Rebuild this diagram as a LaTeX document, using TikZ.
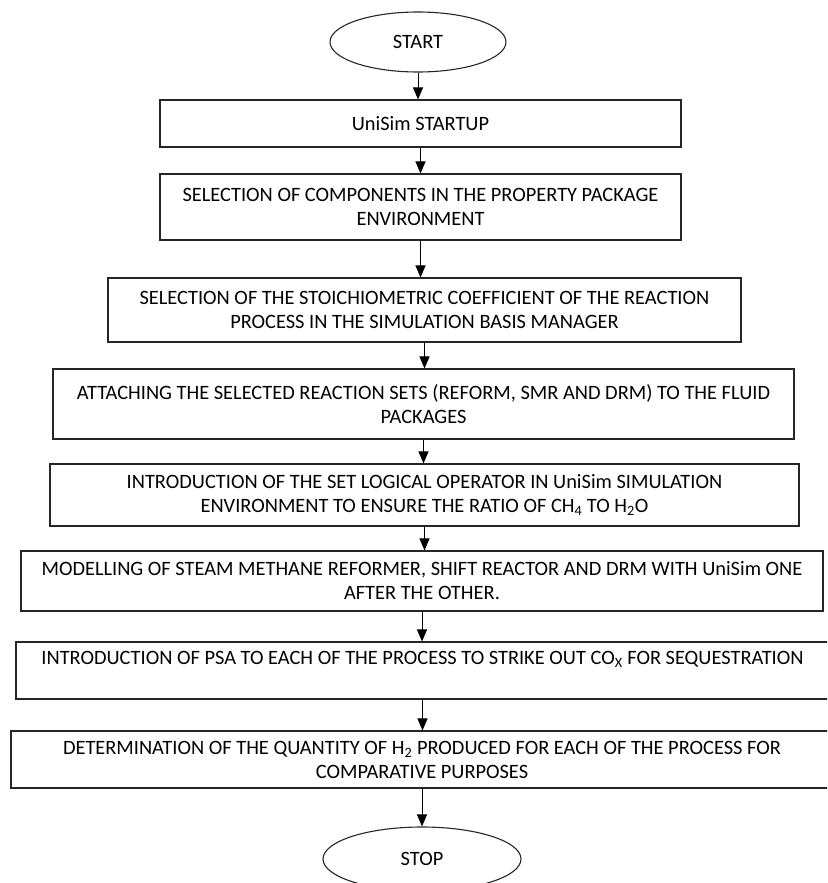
\documentclass[tikz,border=0pt]{standalone}
\usepackage{fontspec}
\setmainfont{Carlito}
\usetikzlibrary{arrows.meta,shapes.geometric}
\tikzset{
  stepbox/.style={draw=black!85, line width=1.1pt, rectangle, inner sep=0pt, align=center,
    font=\fontsize{20.4}{24}\selectfont},
  termnode/.style={draw=black!85, line width=1.1pt, ellipse, inner sep=0pt,
    font=\fontsize{20.4}{24}\selectfont},
  flow/.style={line width=1pt, -{Triangle[width=10pt,length=12pt]}}
}
\begin{document}
\begin{tikzpicture}[x=1pt,y=-1pt]
\useasboundingbox (0,0) rectangle (827,883);
\clip (0,0) rectangle (827,883);
\node[termnode, minimum width=176pt, minimum height=60pt] (start) at (418,42) {START};
\node[stepbox, minimum width=521pt, minimum height=47pt] (b1) at (420.5,123.5) {UniSim STARTUP};
\node[stepbox, minimum width=521pt, minimum height=66pt] (b2) at (420.5,207) {SELECTION OF COMPONENTS IN THE PROPERTY PACKAGE\\ENVIRONMENT};
\node[stepbox, minimum width=633pt, minimum height=64pt] (b3) at (424.5,310) {SELECTION OF THE STOICHIOMETRIC COEFFICIENT OF THE REACTION\\PROCESS IN THE SIMULATION BASIS MANAGER};
\node[stepbox, minimum width=741pt, minimum height=70pt] (b4) at (423.5,404) {ATTACHING THE SELECTED REACTION SETS (REFORM, SMR AND DRM) TO THE FLUID\\PACKAGES};
\node[stepbox, minimum width=749pt, minimum height=62pt] (b5) at (424.5,495) {INTRODUCTION OF THE SET LOGICAL OPERATOR IN UniSim SIMULATION\\ENVIRONMENT TO ENSURE THE RATIO OF CH\textsubscript{4} TO H\textsubscript{2}O};
\node[stepbox, minimum width=802pt, minimum height=60pt] (b6) at (422,581) {MODELLING OF STEAM METHANE REFORMER, SHIFT REACTOR AND DRM WITH UniSim ONE\\AFTER THE OTHER.};
\node[stepbox, minimum width=813pt, minimum height=57pt] (b7) at (422.5,670.5) {INTRODUCTION OF PSA TO EACH OF THE PROCESS TO STRIKE OUT CO\textsubscript{X} FOR SEQUESTRATION\\[2pt]\mbox{}};
\node[stepbox, minimum width=822pt, minimum height=57pt] (b8) at (422,759.5) {DETERMINATION OF THE QUANTITY OF H\textsubscript{2} PRODUCED FOR EACH OF THE PROCESS FOR\\COMPARATIVE PURPOSES};
\node[termnode, minimum width=198pt, minimum height=64pt] (stop) at (422,859) {STOP};
\draw[flow] (start.south) -- (start.south |- b1.north);
\draw[flow] (b1.south) -- (b1.south |- b2.north);
\draw[flow] (b2.south) -- (b2.south |- b3.north);
\draw[flow] (b3.south) -- (b3.south |- b4.north);
\draw[flow] (b4.south) -- (b4.south |- b5.north);
\draw[flow] (b5.south) -- (b5.south |- b6.north);
\draw[flow] (b6.south) -- (b6.south |- b7.north);
\draw[flow] (b7.south) -- (b7.south |- b8.north);
\draw[flow] (b8.south) -- (b8.south |- stop.north);
\end{tikzpicture}
\end{document}
